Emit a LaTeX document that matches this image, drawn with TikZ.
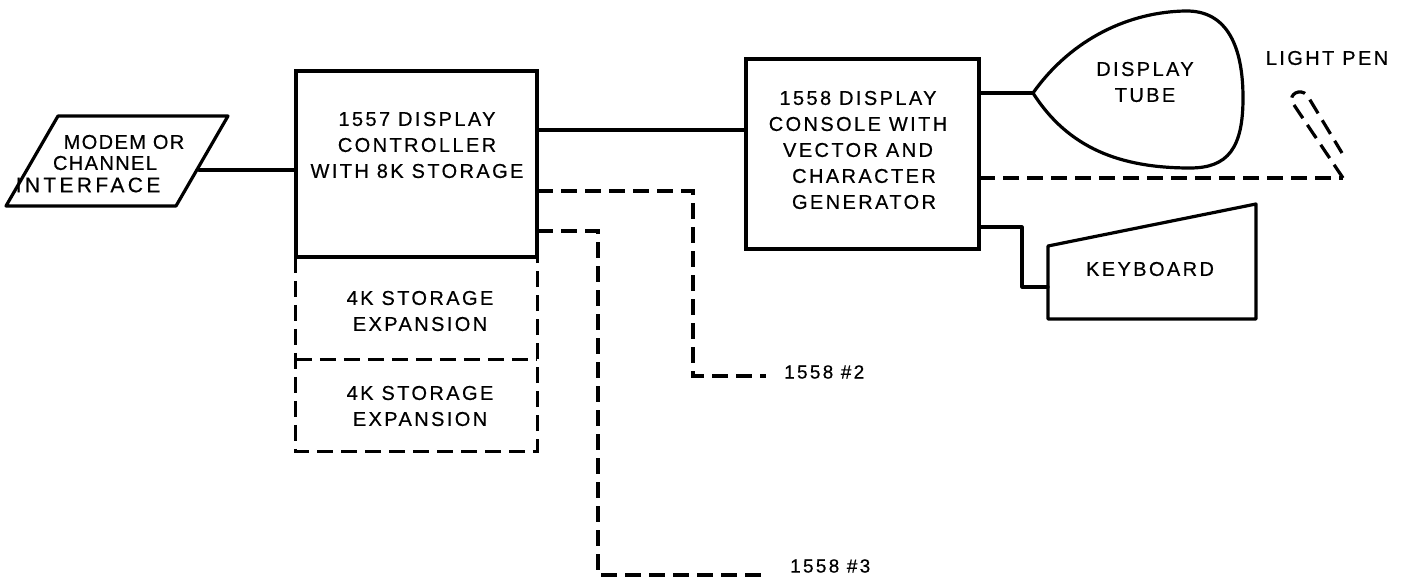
\documentclass[tikz,border=0pt]{standalone}
\usepackage{fontspec}
\newfontfamily\lbl[LetterSpace=12,FakeBold=0.5]{Liberation Sans}
\newfontfamily\lbs[LetterSpace=7,FakeBold=0.5]{Liberation Sans}
\newfontfamily\lbw[LetterSpace=16,FakeBold=0.5]{Liberation Sans}
\begin{document}
\begin{tikzpicture}[x=1pt,y=-1pt,
  ln/.style={line width=3.2pt, line join=round, line cap=round},
  dsh/.style={line width=3.2pt, dash pattern=on 16pt off 8pt},
  boxn/.style={draw, line width=3.2pt, rectangle, inner sep=0pt},
  blank/.style={rectangle, inner sep=0pt},
  txt/.style={font=\lbl\fontsize{20}{26}\selectfont, align=center, inner sep=0pt},
  ptxt/.style={font=\lbs\fontsize{20}{22}\selectfont, inner sep=0pt},
  wtxt/.style={font=\lbw\fontsize{21}{22}\selectfont, inner sep=0pt},
  small/.style={font=\lbl\fontsize{19}{22}\selectfont, inner sep=0pt, anchor=west}]
\useasboundingbox (0,0) rectangle (1407,578);

% modem / channel interface (parallelogram)
\coordinate (m1) at (58,116);
\coordinate (m2) at (228,116);
\coordinate (m3) at (176,206);
\coordinate (m4) at (6,206);
\draw[ln] (m1) -- (m2) -- (m3) -- (m4) -- cycle;
\coordinate (mport) at (199,170);
\node[ptxt] (mt1) at (124,142) {MODEM OR};
\node[ptxt] (mt2) at (105,163) {CHANNEL};
\node[wtxt] (mt3) at (88,185) {INTERFACE};

% controller
\node[boxn, minimum width=241pt, minimum height=186pt] (ctrl) at (416.5,164) {};
\node[txt] (ctrlt) at (417,145) {1557 DISPLAY\\CONTROLLER\\WITH 8K STORAGE};

% storage expansions
\node[blank, minimum width=241pt, minimum height=102pt] (exp1) at (416.5,308) {};
\node[blank, minimum width=241pt, minimum height=92pt] (exp2) at (416.5,405) {};
\draw[dsh] (exp1.north west) -- (exp2.south west) -- (exp2.south east) -- (exp1.north east);
\draw[dsh] (exp1.south west) -- (exp1.south east);
\node[txt] (exp1t) at (420,311) {4K STORAGE\\EXPANSION};
\node[txt] (exp2t) at (420,406) {4K STORAGE\\EXPANSION};

% console
\node[boxn, minimum width=233pt, minimum height=190pt] (cons) at (862.5,154) {};
\node[txt] (const) at (858,150) {1558 DISPLAY\\CONSOLE WITH\\VECTOR AND\\\hspace*{12pt}CHARACTER\\\hspace*{12pt}GENERATOR};

% display tube
\coordinate (tip) at (1033,93);
\draw[ln] (tip) .. controls (1072,38) and (1130,12) .. (1185,11)
  .. controls (1228,10) and (1243,48) .. (1243,98)
  .. controls (1243,148) and (1228,168) .. (1190,168)
  .. controls (1120,168) and (1068,148) .. (tip) -- cycle;
\node[txt] (tubet) at (1145,82) {DISPLAY\\TUBE};

% keyboard
\coordinate (k1) at (1048,246);
\coordinate (k2) at (1256,204);
\coordinate (k3) at (1256,319);
\coordinate (k4) at (1048,319);
\draw[ln] (k1) -- (k2) -- (k3) -- (k4) -- cycle;
\node[txt] (kbt) at (1150,269) {KEYBOARD};
\coordinate (kport) at (1048,287);

% light pen
\node[txt] (lpt) at (1327,58) {LIGHT PEN};
\coordinate (pen) at (1343,178);
\draw[dsh] (pen) -- (1292,102) .. controls (1289,94) and (1300,88) .. (1307,95) -- (1342,153);

% connectors
\draw[ln] (mport) -- (mport -| ctrl.west);
\coordinate (c1) at (537,130);
\draw[ln] (c1) -- (c1 -| cons.west);
\coordinate (t1) at (cons.east |- tip);
\draw[ln] (t1) -- (tip);
\coordinate (lp) at (979,178);
\draw[dsh] (lp) -- (pen);
\coordinate (kb) at (979,227);
\draw[ln] (kb) -- (1022,227) -- (1022,287) -- (kport);

% dashed lines to other consoles
\coordinate (d1) at (537,191);
\coordinate (d1e) at (766,376);
\draw[dsh] (d1) -- (693,191) -- (693,376) -- (d1e);
\node[small] (n2) at (784,372) {1558 \#2};
\coordinate (d2) at (537,231);
\coordinate (d2e) at (762,575);
\draw[dsh] (d2) -- (598,231) -- (598,575) -- (d2e);
\node[small] (n3) at (790,566) {1558 \#3};
\end{tikzpicture}
\end{document}
